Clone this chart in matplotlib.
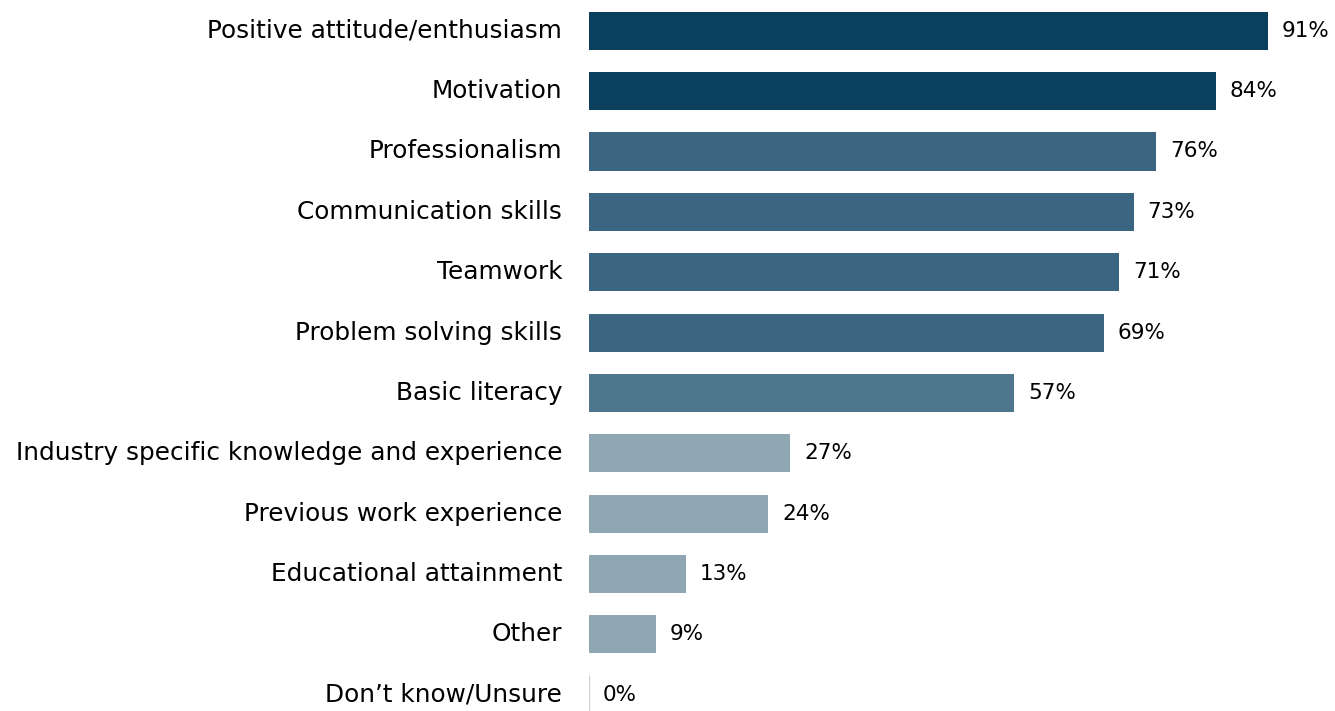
import numpy as np
import matplotlib.pyplot as plt

# Attributes employers look for, share of respondents (%)
attributes = [
    "Positive attitude/enthusiasm",
    "Motivation",
    "Professionalism",
    "Communication skills",
    "Teamwork",
    "Problem solving skills",
    "Basic literacy",
    "Industry specific knowledge and experience",
    "Previous work experience",
    "Educational attainment",
    "Other",
    "Don\u2019t know/Unsure",
]
shares = [91, 84, 76, 73, 71, 69, 57, 27, 24, 13, 9, 0]
bar_colors = ["#0A3F5E", "#0A3F5E", "#3B6580", "#3B6580", "#3B6580", "#3B6580",
              "#4E778D", "#8FA7B3", "#8FA7B3", "#8FA7B3", "#8FA7B3", "#8FA7B3"]

plt.rcParams['font.family'] = ['DejaVu Sans']

fig = plt.figure(figsize=(13.35, 7.11), dpi=100)
ax = fig.add_axes([0.441, 0.0, 0.559, 1.0])

y = np.arange(len(attributes))
ax.barh(y, shares, height=0.63, color=bar_colors)

# zero bars still get a faint baseline tick
for yi, v in zip(y, shares):
    if v == 0:
        ax.plot([0, 0], [yi - 0.31, yi + 0.31], color="#d0d0d0", lw=1)

for yi, v in zip(y, shares):
    ax.text(v + 1.9, yi, f"{v}%", va="center", ha="left", fontsize=15.5,
            color="black", clip_on=False)

ax.set_xlim(0, 100)
ax.set_ylim(len(attributes) - 1 + 0.27, -0.51)
ax.set_yticks(y)
ax.set_yticklabels(attributes, fontsize=17.8, va="center")
ax.tick_params(axis="y", length=0, pad=19)
ax.set_xticks([])
for s in ax.spines.values():
    s.set_visible(False)

fig.savefig("out.png", dpi=100)
